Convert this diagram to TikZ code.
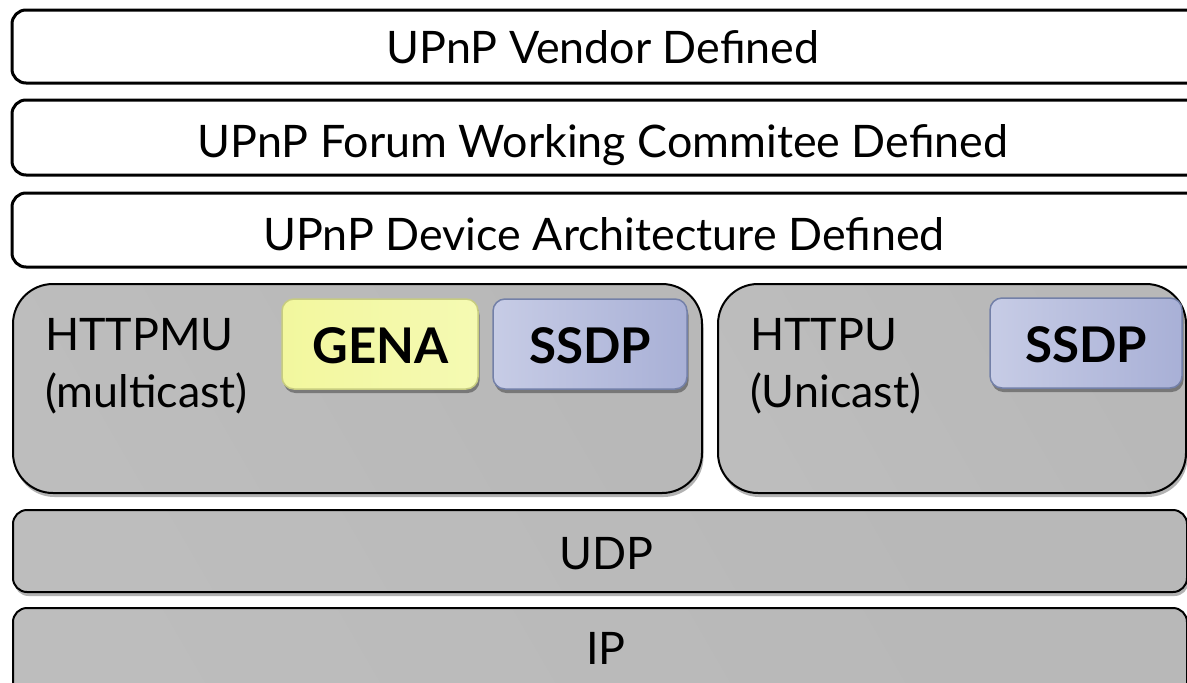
\documentclass[tikz,border=0pt]{standalone}
\usepackage{fontspec}
\setmainfont{Lato}
\usetikzlibrary{shadows}

\begin{document}
\begin{tikzpicture}[x=0.20mm, y=-0.20mm, inner sep=0pt, outer sep=0pt,
  layer/.style={line width=0.6mm, draw=black, fill=white, rounded corners=2.8mm},
  greybox/.style={line width=0.4mm, draw=black, rounded corners=#1,
    left color=G1, middle color=G2, right color=G3, shading angle=120,
    drop shadow={shadow xshift=0.3mm, shadow yshift=-0.8mm, opacity=0.3, fill=black}},
  tagbox/.style={line width=0.3mm, rounded corners=2.4mm,
    drop shadow={shadow xshift=0.3mm, shadow yshift=-0.8mm, opacity=0.35, fill=black}},
  big/.style={font=\fontsize{25.5}{30}\selectfont},
  bigb/.style={font=\fontsize{28}{32}\selectfont\bfseries}]
\useasboundingbox (0,0) rectangle (1187,682);
\clip (0,0) rectangle (1187,682);
\definecolor{G1}{rgb}{0.74,0.74,0.74}
\definecolor{G2}{rgb}{0.62,0.62,0.62}
\definecolor{G3}{rgb}{0.72,0.72,0.72}
\definecolor{Y1}{rgb}{0.95,0.97,0.62}
\definecolor{Y2}{rgb}{0.96,0.98,0.70}
\definecolor{YL}{rgb}{0.78,0.80,0.50}
\definecolor{B1}{rgb}{0.78,0.80,0.90}
\definecolor{B2}{rgb}{0.66,0.69,0.84}
\definecolor{BL}{rgb}{0.45,0.50,0.66}
% upper layers
\path[layer] (12,10) rectangle (1210,83);
\path[layer] (12,100) rectangle (1210,175);
\path[layer] (12,193) rectangle (1210,267);
\node[big, anchor=base] (vendor) at (603,63) {UPnP Vendor Defined};
\node[big, anchor=base] (forum) at (603,157) {UPnP Forum Working Commitee Defined};
\node[big, anchor=base] (device) at (604,250) {UPnP Device Architecture Defined};
% transports
\path[greybox=8mm] (13,284) rectangle (702,493);
\path[greybox=8mm] (718,284) rectangle (1186,493);
\path[greybox=2.8mm] (13,510) rectangle (1187,592);
\path[greybox=2.8mm] (13,608) rectangle (1187,700);
\node[big, anchor=base west] (httpmu) at (45,350) {HTTPMU};
\node[big, anchor=base west] (multicast) at (45,407) {(multicast)};
\node[big, anchor=base west] (httpu) at (750,350) {HTTPU};
\node[big, anchor=base west] (unicast) at (750,407) {(Unicast)};
\node[big, anchor=base] (udp) at (606,569) {UDP};
\node[big, anchor=base] (ip) at (606,664) {IP};
% protocols
\path[tagbox, draw=YL, left color=Y1, right color=Y2] (282,299) rectangle (478,389);
\path[tagbox, draw=BL, left color=B1, right color=B2] (493,299) rectangle (687,389);
\path[tagbox, draw=BL, left color=B1, right color=B2] (990,298) rectangle (1182,388);
\node[bigb, anchor=base] (gena) at (381,363) {GENA};
\node[bigb, anchor=base] (ssdpm) at (590,363) {SSDP};
\node[bigb, anchor=base] (ssdpu) at (1086,362) {SSDP};
\end{tikzpicture}
\end{document}
